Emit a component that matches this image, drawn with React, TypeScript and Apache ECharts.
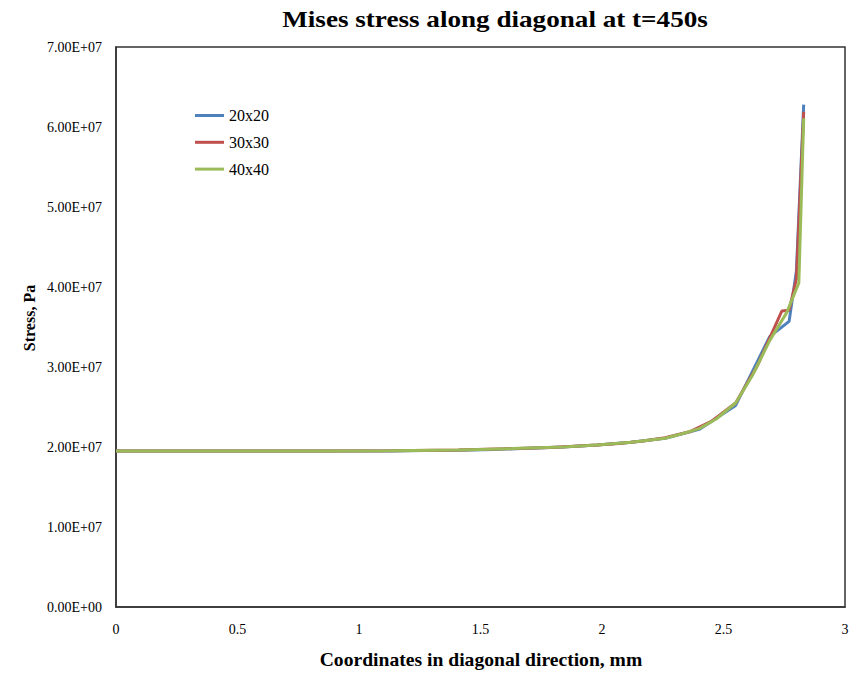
import React, { useEffect, useRef } from "react";
import * as echarts from "echarts";

const title = "Mises stress along diagonal at t=450s";
const xAxisName = "Coordinates in diagonal direction, mm";
const yAxisName = "Stress, Pa";
const seriesNames = ["20x20", "30x30", "40x40"];
const seriesColors = ["#4F81BD", "#C0504D", "#9BBB59"];

// 20x20 mesh
const x20 = [0, 0.14, 0.28, 0.42, 0.57, 0.71, 0.85, 0.99, 1.13, 1.27, 1.41, 1.56, 1.7, 1.84, 1.98, 2.12, 2.26, 2.4, 2.55, 2.69, 2.77, 2.8, 2.83];
const y20 = [1.95, 1.95, 1.95, 1.95, 1.95, 1.95, 1.95, 1.95, 1.95, 1.955, 1.96, 1.97, 1.985, 2.0, 2.025, 2.06, 2.11, 2.22, 2.52, 3.38, 3.57, 4.2, 6.28];

// 30x30 mesh
const x30 = [0, 0.28, 0.57, 0.85, 1.13, 1.41, 1.6, 1.79, 1.98, 2.07, 2.17, 2.26, 2.36, 2.45, 2.55, 2.64, 2.69, 2.74, 2.77, 2.8, 2.83];
const y30 = [1.95, 1.95, 1.95, 1.95, 1.952, 1.962, 1.978, 1.995, 2.025, 2.045, 2.075, 2.115, 2.19, 2.32, 2.55, 3.02, 3.36, 3.7, 3.71, 4.1, 6.19];

// 40x40 mesh
const x40 = [0, 0.28, 0.57, 0.85, 1.13, 1.41, 1.63, 1.84, 1.98, 2.12, 2.26, 2.33, 2.4, 2.47, 2.55, 2.62, 2.69, 2.76, 2.81, 2.83];
const y40 = [1.95, 1.95, 1.95, 1.95, 1.953, 1.963, 1.98, 2.0, 2.025, 2.06, 2.11, 2.165, 2.23, 2.35, 2.55, 2.9, 3.33, 3.68, 4.05, 6.11];

const SCALE = 1e7; // y values above are in units of 1E+07 Pa

const FONT = "Liberation Serif";

function sci(v: number): string {
  if (v === 0) return "0.00E+00";
  const e = Math.floor(Math.log10(Math.abs(v)));
  const m = v / Math.pow(10, e);
  const es = (e < 0 ? "-" : "+") + String(Math.abs(e)).padStart(2, "0");
  return m.toFixed(2) + "E" + es;
}

export default function App() {
  const ref = useRef<HTMLDivElement>(null);
  useEffect(() => {
    document.body.style.margin = "0";
    const chart = echarts.init(ref.current!, undefined, { renderer: "svg" });
    const xs = [x20, x30, x40];
    const ys = [y20, y30, y40];
    const series = seriesNames.map((name, i) => ({
      name,
      type: "line",
      symbol: "none",
      data: xs[i].map((x, j) => [x, ys[i][j] * SCALE]),
      lineStyle: { color: seriesColors[i], width: 3 },
      itemStyle: { color: seriesColors[i] },
    }));
    chart.setOption({
      animation: false,
      backgroundColor: "#ffffff",
      textStyle: { fontFamily: FONT },
      legend: {
        orient: "vertical",
        left: 190,
        top: 102.5,
        icon: "rect",
        itemWidth: 29,
        itemHeight: 3,
        itemGap: 10.8,
        data: seriesNames,
        formatter: "{s|{name}}",
        textStyle: {
          fontFamily: FONT,
          fontSize: 16,
          color: "#000",
          rich: { s: { fontFamily: FONT, fontSize: 16, color: "#000", lineHeight: 17 } },
        },
      },
      grid: {
        left: 116,
        top: 47,
        width: 729,
        height: 560,
        show: true,
        borderColor: "#333",
        borderWidth: 1.5,
        backgroundColor: "transparent",
      },
      xAxis: {
        type: "value",
        min: 0,
        max: 3,
        interval: 0.5,
        axisLine: { show: true, lineStyle: { color: "#333", width: 1.5 } },
        axisTick: { show: false },
        splitLine: { show: false },
        axisLabel: { fontFamily: FONT, fontSize: 14, color: "#000", margin: 15 },
      },
      yAxis: {
        type: "value",
        min: 0,
        max: 7e7,
        interval: 1e7,
        axisLine: { show: true, lineStyle: { color: "#333", width: 1.5 } },
        axisTick: { show: false },
        splitLine: { show: false },
        axisLabel: { fontFamily: FONT, fontSize: 14, color: "#000", margin: 14, formatter: (v: number) => sci(v) },
      },
      graphic: [
        {
          type: "text",
          x: 495,
          y: 19,
          scaleX: 1.18,
          style: {
            text: title,
            fontFamily: FONT,
            fontSize: 23,
            fontWeight: "bold",
            fill: "#000",
            textAlign: "center",
            textVerticalAlign: "middle",
          },
        },
        {
          type: "text",
          x: 481,
          y: 660,
          scaleX: 1.09,
          style: {
            text: xAxisName,
            fontFamily: FONT,
            fontSize: 18,
            fontWeight: "bold",
            fill: "#000",
            textAlign: "center",
            textVerticalAlign: "middle",
          },
        },
        {
          type: "text",
          x: 29,
          y: 318,
          rotation: Math.PI / 2,
          style: {
            text: yAxisName,
            fontFamily: FONT,
            fontSize: 16,
            fontWeight: "bold",
            fill: "#000",
            textAlign: "center",
            textVerticalAlign: "middle",
          },
        },
      ],
      series,
    });
    return () => chart.dispose();
  }, []);
  return <div ref={ref} style={{ width: 858, height: 673 }} />;
}
